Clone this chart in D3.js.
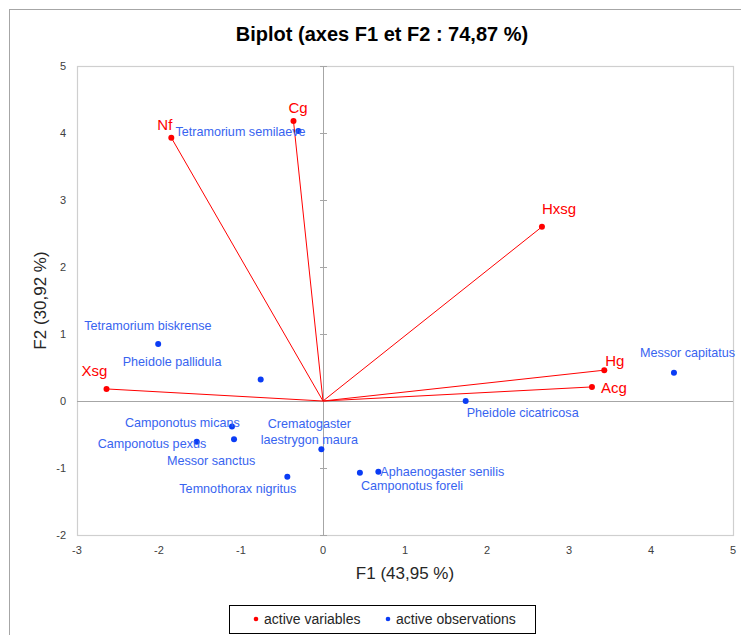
<!DOCTYPE html>
<html>
<head>
<meta charset="utf-8">
<script src="https://cdn.jsdelivr.net/npm/d3@7"></script>
<style>
  html, body { margin: 0; padding: 0; background: #fff; }
  svg { display: block; }
</style>
</head>
<body>
<svg id="chart" width="741" height="635"></svg>
<script>
// ---- Data ----
const varNames = ["Nf", "Cg", "Hxsg", "Hg", "Acg", "Xsg"];
const varF1 = [-1.85, -0.36, 2.67, 3.43, 3.28, -2.64];
const varF2 = [3.93, 4.18, 2.60, 0.46, 0.21, 0.18];

const obsNames = [
  "Tetramorium semilaeve", "Tetramorium biskrense", "Pheidole pallidula",
  "Camponotus micans", "Messor sanctus", "Camponotus pexus",
  "Crematogaster\nlaestrygon maura", "Temnothorax nigritus", "Camponotus foreli",
  "Aphaenogaster senilis", "Pheidole cicatricosa", "Messor capitatus"
];
const obsF1 = [-0.30, -2.01, -0.76, -1.11, -1.085, -1.54, -0.02, -0.435, 0.45, 0.675, 1.74, 4.28];
const obsF2 = [4.03, 0.85, 0.32, -0.38, -0.57, -0.61, -0.72, -1.13, -1.07, -1.055, 0.0, 0.42];

const xTicks = [-3, -2, -1, 0, 1, 2, 3, 4, 5];
const yTicks = [-2, -1, 0, 1, 2, 3, 4, 5];

const titleText = "Biplot (axes F1 et F2 : 74,87 %)";
const xTitle = "F1 (43,95 %)";
const yTitle = "F2 (30,92 %)";
const legendLabels = ["active variables", "active observations"];

// label placement offsets (pixels, relative to the point)
const varLabelOffsets = [[-14, -13], [-5, -13], [0, -18], [1, -10], [9, 1], [-25, -18]];
const obsLabelOffsets = [[-123, 1], [-74, -18], [-138, -18], [-107, -4], [-67, 22], [-99, 2],
  [-12, -26], [-108, 12], [1, 13], [2, 0], [1, 12], [-34, -20]];

// ---- Layout ----
const svg = d3.select("#chart");
const plot = { left: 77, right: 733, top: 66, bottom: 535 };
const x = d3.scaleLinear().domain([-3, 5]).range([plot.left, plot.right]);
const y = d3.scaleLinear().domain([-2, 5]).range([plot.bottom, plot.top]);

const RED = "#ff0000";
const BLUE_DOT = "#0a3cf5";
const BLUE_TXT = "#3864f0";
const FONT = "'Liberation Sans', Arial, sans-serif";

// outer chart border (extends past the picture)
svg.append("rect").attr("x", 9.5).attr("y", 9.5).attr("width", 900).attr("height", 900)
  .attr("fill", "none").attr("stroke", "#a6a6a6").attr("stroke-width", 1);

// title
svg.append("text").attr("x", 382).attr("y", 41).attr("text-anchor", "middle")
  .attr("font-family", FONT).attr("font-weight", "bold").attr("font-size", 20)
  .attr("fill", "#000").text(titleText);

// plot frame
svg.append("rect").attr("x", plot.left + 0.5).attr("y", plot.top + 0.5)
  .attr("width", plot.right - plot.left).attr("height", plot.bottom - plot.top)
  .attr("fill", "none").attr("stroke", "#cfcfcf").attr("stroke-width", 1.2);

// zero axes
const axG = svg.append("g");
axG.append("line").attr("x1", plot.left).attr("x2", plot.right)
  .attr("y1", Math.round(y(0)) + 0.5).attr("y2", Math.round(y(0)) + 0.5)
  .attr("stroke", "#a6a6a6").attr("stroke-width", 1);
axG.append("line").attr("y1", plot.top).attr("y2", plot.bottom)
  .attr("x1", Math.round(x(0)) + 0.5).attr("x2", Math.round(x(0)) + 0.5)
  .attr("stroke", "#a6a6a6").attr("stroke-width", 1);
// ticks on the vertical zero axis
axG.selectAll("line.yt").data(yTicks).join("line").attr("class", "yt")
  .attr("x1", Math.round(x(0)) - 3).attr("x2", Math.round(x(0)) + 4)
  .attr("y1", d => Math.round(y(d)) + 0.5).attr("y2", d => Math.round(y(d)) + 0.5)
  .attr("stroke", "#a6a6a6").attr("stroke-width", 1);

// tick labels
svg.append("g").selectAll("text").data(xTicks).join("text")
  .attr("x", d => x(d)).attr("y", 554).attr("text-anchor", "middle")
  .attr("font-family", FONT).attr("font-size", 11).attr("fill", "#404040")
  .text(d => d);
svg.append("g").selectAll("text").data(yTicks).join("text")
  .attr("x", 66).attr("y", d => y(d) + 4).attr("text-anchor", "end")
  .attr("font-family", FONT).attr("font-size", 11).attr("fill", "#404040")
  .text(d => d);

// axis titles
svg.append("text").attr("x", 405).attr("y", 579).attr("text-anchor", "middle")
  .attr("font-family", FONT).attr("font-size", 17).attr("fill", "#262626").text(xTitle);
svg.append("text").attr("transform", `translate(46,${(plot.top + plot.bottom) / 2}) rotate(-90)`)
  .attr("text-anchor", "middle").attr("font-family", FONT).attr("font-size", 17)
  .attr("fill", "#262626").text(yTitle);

// variable vectors
const vars = varNames.map((n, i) => ({ name: n, f1: varF1[i], f2: varF2[i], off: varLabelOffsets[i] }));
const obs = obsNames.map((n, i) => ({ name: n, f1: obsF1[i], f2: obsF2[i], off: obsLabelOffsets[i] }));

svg.append("g").selectAll("line").data(vars).join("line")
  .attr("x1", x(0)).attr("y1", y(0)).attr("x2", d => x(d.f1)).attr("y2", d => y(d.f2))
  .attr("stroke", RED).attr("stroke-width", 1);

// observations
svg.append("g").selectAll("circle").data(obs).join("circle")
  .attr("cx", d => x(d.f1)).attr("cy", d => y(d.f2)).attr("r", 3).attr("fill", BLUE_DOT);

const obsText = svg.append("g").selectAll("text").data(obs).join("text")
  .attr("font-family", FONT).attr("font-size", 12.6).attr("fill", BLUE_TXT)
  .attr("text-anchor", d => d.name.includes("\n") ? "middle" : "start")
  .attr("x", d => x(d.f1) + d.off[0]).attr("y", d => y(d.f2) + d.off[1] + 4.3);
obsText.each(function (d) {
  const lines = d.name.split("\n");
  const t = d3.select(this);
  lines.forEach((l, k) => {
    t.append("tspan").attr("x", x(d.f1) + d.off[0]).attr("dy", k === 0 ? 0 : 16.5).text(l);
  });
});

// variable points & labels
svg.append("g").selectAll("circle").data(vars).join("circle")
  .attr("cx", d => x(d.f1)).attr("cy", d => y(d.f2)).attr("r", 3).attr("fill", RED);
svg.append("g").selectAll("text").data(vars).join("text")
  .attr("font-family", FONT).attr("font-size", 15).attr("fill", RED)
  .attr("x", d => x(d.f1) + d.off[0]).attr("y", d => y(d.f2) + d.off[1] + 5.5)
  .text(d => d.name);

// legend
const lg = svg.append("g");
lg.append("rect").attr("x", 229.5).attr("y", 605.5).attr("width", 306).attr("height", 28)
  .attr("fill", "#fff").attr("stroke", "#000").attr("stroke-width", 1);
const legendColors = [RED, BLUE_DOT];
const legendX = [256, 388];
lg.selectAll("circle").data(legendLabels).join("circle")
  .attr("cx", (d, i) => legendX[i]).attr("cy", 619).attr("r", 2.3)
  .attr("fill", (d, i) => legendColors[i]);
lg.selectAll("text").data(legendLabels).join("text")
  .attr("x", (d, i) => legendX[i] + 8).attr("y", 623.5)
  .attr("font-family", FONT).attr("font-size", 14).attr("fill", "#262626")
  .text(d => d);
</script>
</body>
</html>
